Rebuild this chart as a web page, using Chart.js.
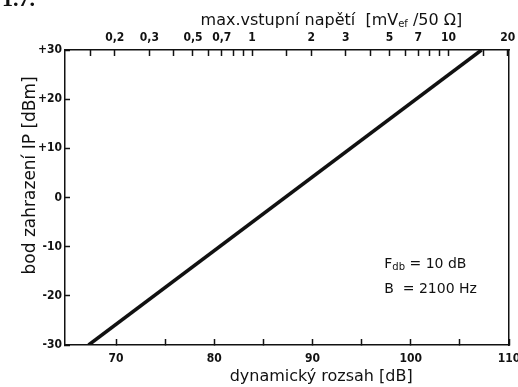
<!DOCTYPE html>
<html><head><meta charset="utf-8">
<script src="https://cdn.jsdelivr.net/npm/chart.js@4"></script>
<style>
html,body{margin:0;padding:0;background:#fff;overflow:hidden}
#wrap{position:relative;width:518px;height:387px}
#fig{position:absolute;left:2px;top:-14px;font:bold 22px "Liberation Serif","DejaVu Serif",serif;color:#111}
canvas{position:absolute;left:0;top:0}
</style></head>
<body><div id="wrap"><canvas id="c" width="518" height="387"></canvas><div id="fig">1.7.</div></div>
<script>
// ---- data ----
const dynRangeDB = [67.2, 107.2];      // dynamický rozsah [dB]
const interceptDBm = [-30, 30];        // bod zahrazení IP [dBm]
const bottomTicks = [70, 75, 80, 85, 90, 95, 100, 105, 110];
const bottomLabels = [70, 80, 90, 100, 110];
const leftTicks = [-30, -20, -10, 0, 10, 20, 30];
const topTicks = [0.15, 0.2, 0.3, 0.4, 0.5, 0.6, 0.7, 0.8, 0.9, 1, 1.5, 2, 3, 4, 5, 6, 7, 8, 9, 10, 15, 20];
const topLabels = [0.2, 0.3, 0.5, 0.7, 1, 2, 3, 5, 7, 10, 20];
const xMin = 64.8, xMax = 110;
const mvOffsetDB = 83.85;   // dB value corresponding to 1 mV on the top scale

const points = dynRangeDB.map((x, i) => ({x: x, y: interceptDBm[i]}));
const tickFont = {family: '"Liberation Sans Narrow","DejaVu Sans Condensed","Liberation Sans",sans-serif', size: 12, weight: 'bold'};
const titleFamily = '"DejaVu Sans","Liberation Sans",sans-serif';

function drawRich(ctx, parts, x, y, align) {
  let w = 0;
  parts.forEach(p => { ctx.font = p.f; p.w = ctx.measureText(p.t).width; w += p.w; });
  let cx = align === 'center' ? x - w / 2 : x;
  ctx.textBaseline = 'middle'; ctx.textAlign = 'left';
  parts.forEach(p => { ctx.font = p.f; ctx.fillText(p.t, cx, y + (p.dy || 0)); cx += p.w; });
}

const textPlugin = {
  id: 'texts',
  afterDraw(chart) {
    const ctx = chart.ctx, a = chart.chartArea, sx = chart.scales.x, sy = chart.scales.y;
    ctx.save();
    ctx.fillStyle = '#111';
    const big = '16px ' + titleFamily, small = '10px ' + titleFamily;
    // top title
    drawRich(ctx, [{t: 'max.vstupní napětí  [mV', f: big}, {t: 'ef', f: small, dy: 3}, {t: ' /50 Ω]', f: big}],
      a.left + (a.right - a.left) * 0.60, 21, 'center');
    // bottom title
    drawRich(ctx, [{t: 'dynamický rozsah [dB]', f: big}], a.left + (a.right - a.left) * 0.577, 377, 'center');
    // y title
    ctx.save();
    ctx.translate(31, a.top + (a.bottom - a.top) * 0.425);
    ctx.rotate(-Math.PI / 2);
    drawRich(ctx, [{t: 'bod zahrazení IP [dBm]', f: '17px ' + titleFamily}], 0, 0, 'center');
    ctx.restore();
    // annotation
    const ax = sx.getPixelForValue(97.3);
    drawRich(ctx, [{t: 'F', f: '14px ' + titleFamily}, {t: 'db', f: '10px ' + titleFamily, dy: 3}, {t: ' = 10 dB', f: '14px ' + titleFamily}],
      ax, sy.getPixelForValue(-13.7), 'left');
    drawRich(ctx, [{t: 'B  = 2100 Hz', f: '14px ' + titleFamily}], ax, sy.getPixelForValue(-18.6), 'left');
    ctx.restore();
  }
};

const axisBorder = {display: true, color: '#111', width: 1.5};
const noPad = s => { s.paddingLeft = 0; s.paddingRight = 0; s.paddingTop = 0; s.paddingBottom = 0; };
new Chart(document.getElementById('c'), {
  type: 'scatter',
  data: {datasets: [{data: points, showLine: true, borderColor: '#111', borderWidth: 3.5, pointRadius: 0, fill: false}]},
  options: {
    responsive: false, animation: false, events: [],
    layout: {padding: 0},
    plugins: {legend: {display: false}, tooltip: {enabled: false}},
    scales: {
      x: {
        type: 'linear', position: 'bottom', min: xMin, max: xMax,
        afterBuildTicks: s => { s.ticks = bottomTicks.map(v => ({value: v})); },
        afterFit: s => { s.height = 42; noPad(s); },
        ticks: {autoSkip: false, maxRotation: 0, padding: 13, color: '#111', font: tickFont,
          callback: v => bottomLabels.includes(v) ? String(v) : ''},
        grid: {drawOnChartArea: false, drawTicks: true, tickLength: -6, tickColor: '#111', tickWidth: 1.5},
        border: axisBorder
      },
      x2: {
        type: 'logarithmic', position: 'top',
        min: Math.pow(10, (xMin - mvOffsetDB) / 20), max: Math.pow(10, (xMax - mvOffsetDB) / 20),
        afterBuildTicks: s => { s.ticks = topTicks.map(v => ({value: v})); },
        afterFit: s => { s.height = 50; noPad(s); },
        ticks: {autoSkip: false, maxRotation: 0, padding: 11, color: '#111', font: tickFont,
          callback: v => topLabels.includes(v) ? String(v).replace('.', ',') : ''},
        grid: {drawOnChartArea: false, drawTicks: true, tickLength: -6, tickColor: '#111', tickWidth: 1.5},
        border: axisBorder
      },
      y: {
        type: 'linear', position: 'left', min: -30, max: 30,
        afterBuildTicks: s => { s.ticks = leftTicks.map(v => ({value: v})); },
        afterFit: s => { s.width = 65; noPad(s); },
        ticks: {padding: 8, color: '#111', font: tickFont,
          callback: v => v > 0 ? '+' + v : String(v)},
        grid: {drawOnChartArea: false, drawTicks: true, tickLength: -5, tickColor: '#111', tickWidth: 1.5},
        border: axisBorder
      },
      y2: {
        type: 'linear', position: 'right', min: -30, max: 30,
        afterFit: s => { s.width = 9; noPad(s); },
        ticks: {display: false},
        grid: {display: false},
        border: axisBorder
      }
    }
  },
  plugins: [textPlugin]
});
</script>
</body></html>
